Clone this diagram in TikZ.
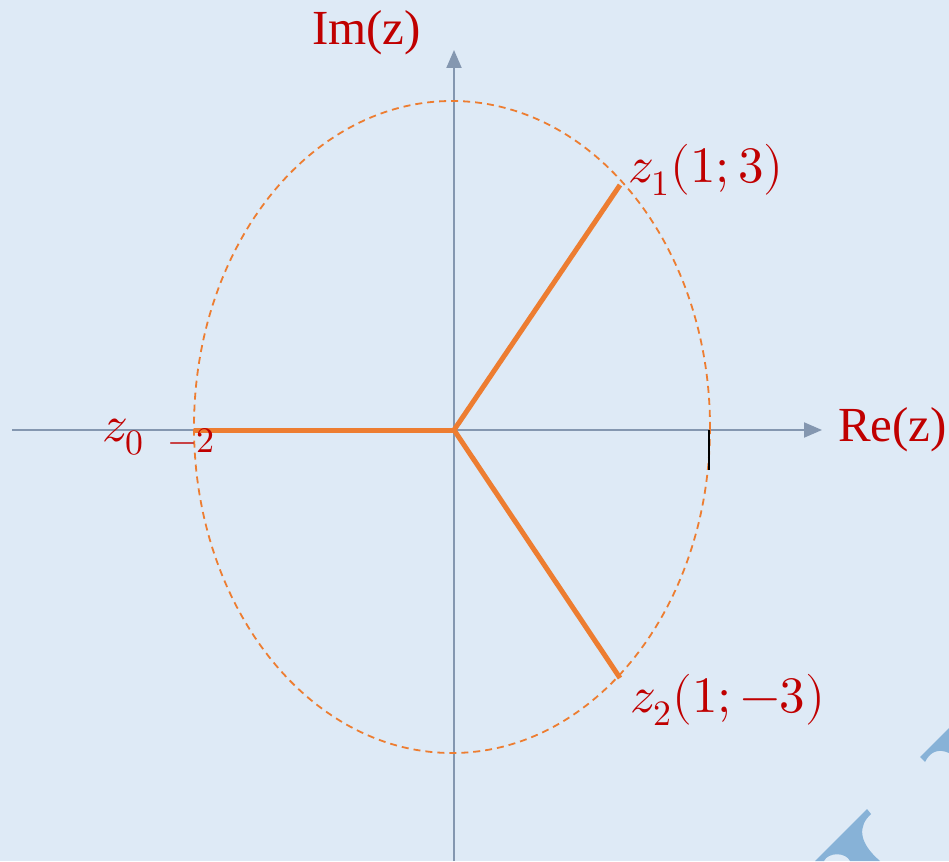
\documentclass[tikz,border=0pt]{standalone}
\usepackage{fontspec}
\usepackage{unicode-math}
\setmainfont{Liberation Serif}
\setmathfont{latinmodern-math.otf}
\usetikzlibrary{arrows.meta}
\definecolor{bg}{HTML}{DEEAF6}
\definecolor{axisc}{HTML}{8497B0}
\definecolor{orng}{HTML}{ED7D31}
\definecolor{lbl}{HTML}{C00000}
\definecolor{wm}{HTML}{87B2D7}
\tikzset{
  axis/.style={axisc, line width=2pt, -{Triangle[length=18pt,width=15pt]}},
  seg/.style={orng, line width=5pt},
  circ/.style={orng, line width=1.8pt, dash pattern=on 7pt off 5pt},
  lab/.style={lbl, inner sep=0pt, font=\fontsize{49}{54}\selectfont},
  mlab/.style={lbl, inner sep=0pt, font=\fontsize{51}{56}\selectfont},
  slab/.style={lbl, inner sep=0pt, font=\fontsize{36}{40}\selectfont},
}
\begin{document}
\begin{tikzpicture}[x=1pt,y=-1pt]
\fill[bg] (0,0) rectangle (949,861);
\useasboundingbox (0,0) rectangle (949,861);
% watermark shapes
\fill[wm] (920,757) -- (949,728) -- (949,753) .. controls (938,748) and (930,752) .. (925,762) -- cycle;
\fill[wm] (815,861) -- (867,809) -- (871,814) .. controls (858,826) and (858,842) .. (880,861) -- (850,861) .. controls (846,852) and (828,852) .. (824,861) -- cycle;
% axes
\coordinate (O) at (454,430);
\coordinate (xs) at (12,430);
\coordinate (xe) at (822,430);
\coordinate (ys) at (454,861);
\coordinate (ye) at (454,50);
\draw[axis] (xs) -- (xe);
\draw[axis] (ys) -- (ye);
% ellipse
\draw[circ] (452,427) ellipse [x radius=258, y radius=326];
% tick
\coordinate (t1) at (709,430);
\coordinate (t2) at (709,470);
\draw[black, line width=1.2pt] (t1) -- (t2);
% segments
\coordinate (Z0) at (194,430);
\coordinate (Z1) at (620,185);
\coordinate (Z2) at (620,678);
\draw[seg] (O) -- (Z0);
\draw[seg] (O) -- (Z1);
\draw[seg] (O) -- (Z2);
% labels
\node[mlab, anchor=west] (lz1) at (628,170) {$z_1(1;3)$};
\node[mlab, anchor=west] (lz2) at (630,700) {$z_2(1;-3)$};
\node[mlab, anchor=west] (lz0) at (102,437) {$z_0$};
\node[slab, anchor=west] (lm2) at (168,441) {$-2$};
\node[lab, anchor=west] (lre) at (838,430) {Re(z)};
\node[lab, anchor=west] (lim) at (312,33) {Im(z)};
\end{tikzpicture}
\end{document}
